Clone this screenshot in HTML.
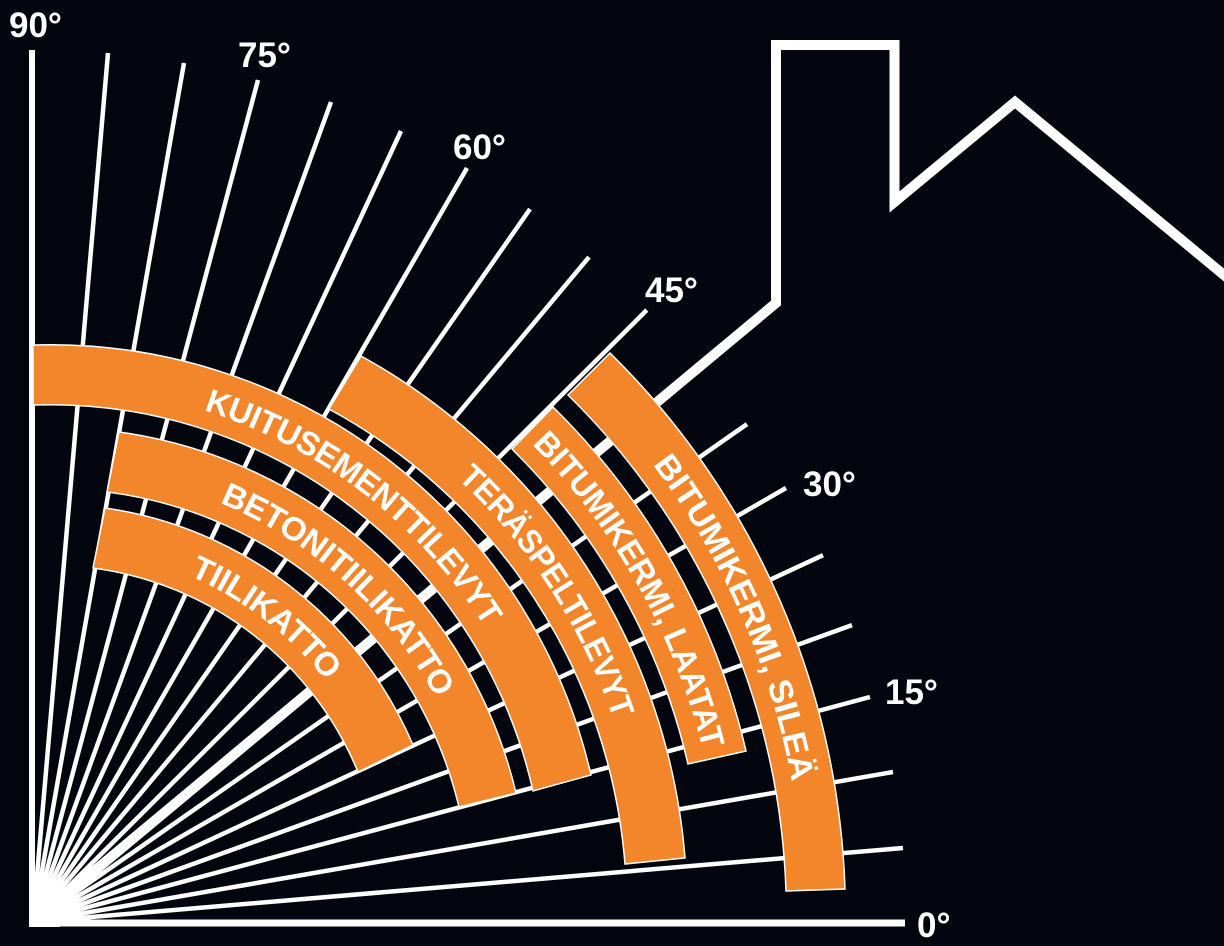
<!DOCTYPE html>
<html><head><meta charset="utf-8"><style>
html,body{margin:0;padding:0;background:#03060f;}
svg{display:block}
.l{font-family:"Liberation Sans",sans-serif;font-weight:bold;fill:#fff;font-size:35px}
.b{font-family:"Liberation Sans Narrow","Liberation Sans",sans-serif;font-weight:bold;fill:#fff;font-size:33px}
</style></head><body>
<svg width="1224" height="946" viewBox="0 0 1224 946" xmlns="http://www.w3.org/2000/svg">
<rect width="1224" height="946" fill="#03060f"/>
<g stroke="#fff" stroke-width="4.5" stroke-linecap="butt">
<line x1="33" y1="922" x2="903" y2="848"/>
<line x1="33" y1="922" x2="893" y2="772"/>
<line x1="33" y1="922" x2="870" y2="697"/>
<line x1="33" y1="922" x2="852" y2="625.1"/>
<line x1="33" y1="922" x2="823" y2="555.2"/>
<line x1="33" y1="922" x2="786" y2="488"/>
<line x1="33" y1="922" x2="747" y2="424.1"/>
<line x1="33" y1="922" x2="646.8" y2="310"/>
<line x1="33" y1="922" x2="589" y2="257.1"/>
<line x1="33" y1="922" x2="530" y2="209"/>
<line x1="33" y1="922" x2="467" y2="168"/>
<line x1="33" y1="922" x2="401" y2="131"/>
<line x1="33" y1="922" x2="331" y2="102"/>
<line x1="33" y1="922" x2="258" y2="80"/>
<line x1="33" y1="922" x2="184" y2="63"/>
<line x1="33" y1="922" x2="108" y2="53"/>
</g>
<line x1="32" y1="924" x2="32" y2="50" stroke="#fff" stroke-width="6"/>
<line x1="29" y1="923" x2="905" y2="923" stroke="#fff" stroke-width="7"/>
<rect x="29" y="880" width="30" height="47" fill="#fff"/>
<polygon points="29,927 29,870 60,927" fill="#fff"/>
<polyline points="33,922 776,303 776,45 894.5,45 894.5,202 1015,102 1230,280" fill="none" stroke="#fff" stroke-width="10" stroke-linejoin="miter"/>
<g fill="#f3862b" stroke="#fff" stroke-width="1.5">
<path d="M105,508 A396,396 0 0 1 413,745 L358,772 A334,334 0 0 0 93,568 Z"/>
<path d="M119,432 A475,475 0 0 1 516,793 L459,807 A415,415 0 0 0 107,492 Z"/>
<path d="M33,345 A555,555 0 0 1 591,775 L533,791 A495,495 0 0 0 33,405 Z"/>
<path d="M361,356 A632,632 0 0 1 685,858 L625,864 A570,570 0 0 0 329,409 Z"/>
<path d="M553,407 A708,708 0 0 1 746,751 L688,764 A649,649 0 0 0 512,449 Z"/>
<path d="M610,353 A789,789 0 0 1 845,889 L786,891 A730,730 0 0 0 568,395 Z"/>
</g>
<defs>
<path id="p1" d="M99,538 A365,365 0 0 1 385.5,758.5"/>
<path id="p2" d="M113,462 A445,445 0 0 1 487.5,800"/>
<path id="p3" d="M33,375 A525,525 0 0 1 562,783"/>
<path id="p4" d="M345,382.5 A601,601 0 0 1 655,861"/>
<path id="p5" d="M532.5,428 A678,678 0 0 1 717,757.5"/>
<path id="p6" d="M589,374 A760,760 0 0 1 815.5,890"/>
</defs>
<g class="b" text-anchor="middle" dominant-baseline="central">
<text><textPath href="#p1" startOffset="50%" textLength="180" lengthAdjust="spacingAndGlyphs">TIILIKATTO</textPath></text>
<text><textPath href="#p2" startOffset="50%" textLength="305" lengthAdjust="spacingAndGlyphs">BETONITIILIKATTO</textPath></text>
<text><textPath href="#p3" startOffset="50%" textLength="370" lengthAdjust="spacingAndGlyphs">KUITUSEMENTTILEVYT</textPath></text>
<text><textPath href="#p4" startOffset="50%" textLength="295" lengthAdjust="spacingAndGlyphs">TERÄSPELTILEVYT</textPath></text>
<text><textPath href="#p5" startOffset="50%" textLength="360" lengthAdjust="spacingAndGlyphs">BITUMIKERMI, LAATAT</textPath></text>
<text><textPath href="#p6" startOffset="50%" textLength="355" lengthAdjust="spacingAndGlyphs">BITUMIKERMI, SILEÄ</textPath></text>
</g>
<g class="l">
<text x="9" y="37">90°</text>
<text x="238" y="67">75°</text>
<text x="453" y="159">60°</text>
<text x="645" y="302">45°</text>
<text x="803" y="496">30°</text>
<text x="885" y="704">15°</text>
<text x="917" y="937">0°</text>
</g>
</svg>
</body></html>
